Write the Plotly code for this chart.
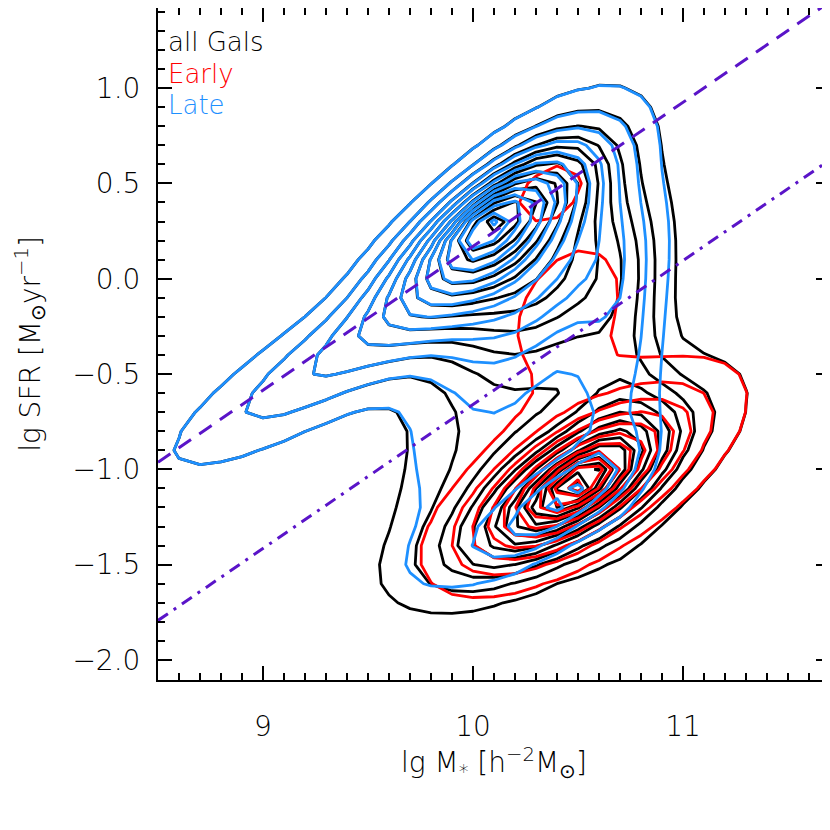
import numpy as np
import plotly.graph_objects as go

# Axis ranges and ticks
x_range = [8.5, 11.7]
y_range = [-2.105, 1.42]
x_tickvals = [9, 10, 11]
x_ticktext = ["9", "10", "11"]
y_tickvals = [1.0, 0.5, 0.0, -0.5, -1.0, -1.5, -2.0]
y_ticktext = ["1.0", "0.5", "0.0", "\u22120.5", "\u22121.0", "\u22121.5", "\u22122.0"]

# Density components: centre, major/minor widths, angle (deg), amplitude
late_x0 = [10.05, 10.08, 10.30, 10.20, 9.25, 9.45, 10.70, 10.42, 10.10, 9.90]
late_y0 = [0.29, 0.28, 0.15, 0.00, -0.52, -0.30, -0.40, -1.17, -0.85, -1.45]
late_sa = [0.15, 0.40, 0.55, 0.40, 0.68, 0.50, 0.55, 0.28, 0.50, 0.30]
late_sb = [0.06, 0.16, 0.25, 0.25, 0.17, 0.15, 0.15, 0.11, 0.30, 0.15]
late_ang = [42, 42, 65, 30, 33, 35, 88, 40, 60, 30]
late_amp = [2.5, 8.0, 2.5, 2.5, 1.7, 1.4, 2.0, 3.5, 1.4, 0.8]

early_x0 = [10.50, 10.50, 10.55, 10.45, 10.36]
early_y0 = [-1.07, -1.07, -1.02, -0.15, 0.47]
early_sa = [0.12, 0.36, 0.55, 0.35, 0.20]
early_sb = [0.06, 0.15, 0.25, 0.22, 0.12]
early_ang = [35, 36, 36, 60, 40]
early_amp = [3.0, 6.0, 3.0, 1.5, 1.3]

# contour levels shared by all three maps
level_start, level_end, level_step = 1, 30, 1

# reference relations: lg SFR = slope * (lg M - 10) + offset
rel_slope = 0.755
rel_offsets = [0.17, -0.66]
rel_dash = ["15px,10px", "12px,7px,3px,7px"]

# bins
gx = np.arange(8.5, 11.71, 0.1)
gy = np.arange(-2.1, 1.41, 0.1)
X, Y = np.meshgrid(gx, gy)


def density(x0, y0, sa, sb, ang, amp):
    z = np.zeros_like(X)
    for cx, cy, a, b, t, A in zip(x0, y0, sa, sb, ang, amp):
        th = np.radians(t)
        dx, dy = X - cx, Y - cy
        u = dx * np.cos(th) + dy * np.sin(th)
        v = -dx * np.sin(th) + dy * np.cos(th)
        z += A * np.exp(-0.5 * ((u / a) ** 2 + (v / b) ** 2))
    return z


z_late = density(late_x0, late_y0, late_sa, late_sb, late_ang, late_amp)
z_early = density(early_x0, early_y0, early_sa, early_sb, early_ang, early_amp)
z_all = z_late + z_early

fig = go.Figure()

for z, col in [(z_all, "black"), (z_early, "#ff0000"), (z_late, "#1e90ff")]:
    fig.add_trace(go.Contour(
        x=gx, y=gy, z=z,
        contours=dict(start=level_start, end=level_end, size=level_step, coloring="lines"),
        colorscale=[[0, col], [1, col]],
        showscale=False,
        line=dict(width=2.8, smoothing=0),
        hoverinfo="skip",
    ))

for off, dash in zip(rel_offsets, rel_dash):
    xs = np.array(x_range)
    fig.add_trace(go.Scatter(
        x=xs, y=rel_slope * (xs - 10) + off,
        mode="lines", line=dict(color="#5a14c8", width=3, dash=dash),
        showlegend=False, hoverinfo="skip",
    ))

# legend labels
for i, (txt, col) in enumerate([("all Gals", "black"), ("Early", "#ff0000"), ("Late", "#1e90ff")]):
    fig.add_annotation(
        text=txt, xref="paper", yref="paper", x=0.012, y=0.949 - i * 0.047,
        xanchor="left", yanchor="middle", showarrow=False,
        font=dict(size=26, color=col, family="DejaVu Sans", weight=200),
    )

axis_common = dict(
    showline=True, linecolor="black", linewidth=2, mirror="allticks",
    ticks="inside", ticklen=14, tickwidth=2, tickcolor="black",
    showgrid=False, zeroline=False, automargin=False,
    tickfont=dict(size=28, family="DejaVu Sans", color="black", weight=200),
    minor=dict(ticks="inside", ticklen=7, tickwidth=2, tickcolor="black", dtick=0.1, showgrid=False),
)

fig.update_layout(
    width=830, height=830,
    margin=dict(l=150, r=8, t=0, b=158),
    plot_bgcolor="white", paper_bgcolor="white",
    showlegend=False,
    font=dict(family="DejaVu Sans", color="black", weight=200),
    xaxis=dict(
        range=x_range, tickvals=x_tickvals, ticktext=x_ticktext,
        ticklabelstandoff=20,
        title=dict(text="lg M<sub>*</sub> [h<sup>\u22122</sup>M<sub>\u2299</sub>]",
                   font=dict(size=28, weight=200), standoff=10),
        **axis_common,
    ),
    yaxis=dict(
        range=y_range, tickvals=y_tickvals, ticktext=y_ticktext,
        ticklabelstandoff=10,
        title=dict(text="lg SFR [M<sub>\u2299</sub>yr<sup>\u22121</sup>]",
                   font=dict(size=28, weight=200), standoff=24),
        **axis_common,
    ),
)

fig.write_html("out.html")
